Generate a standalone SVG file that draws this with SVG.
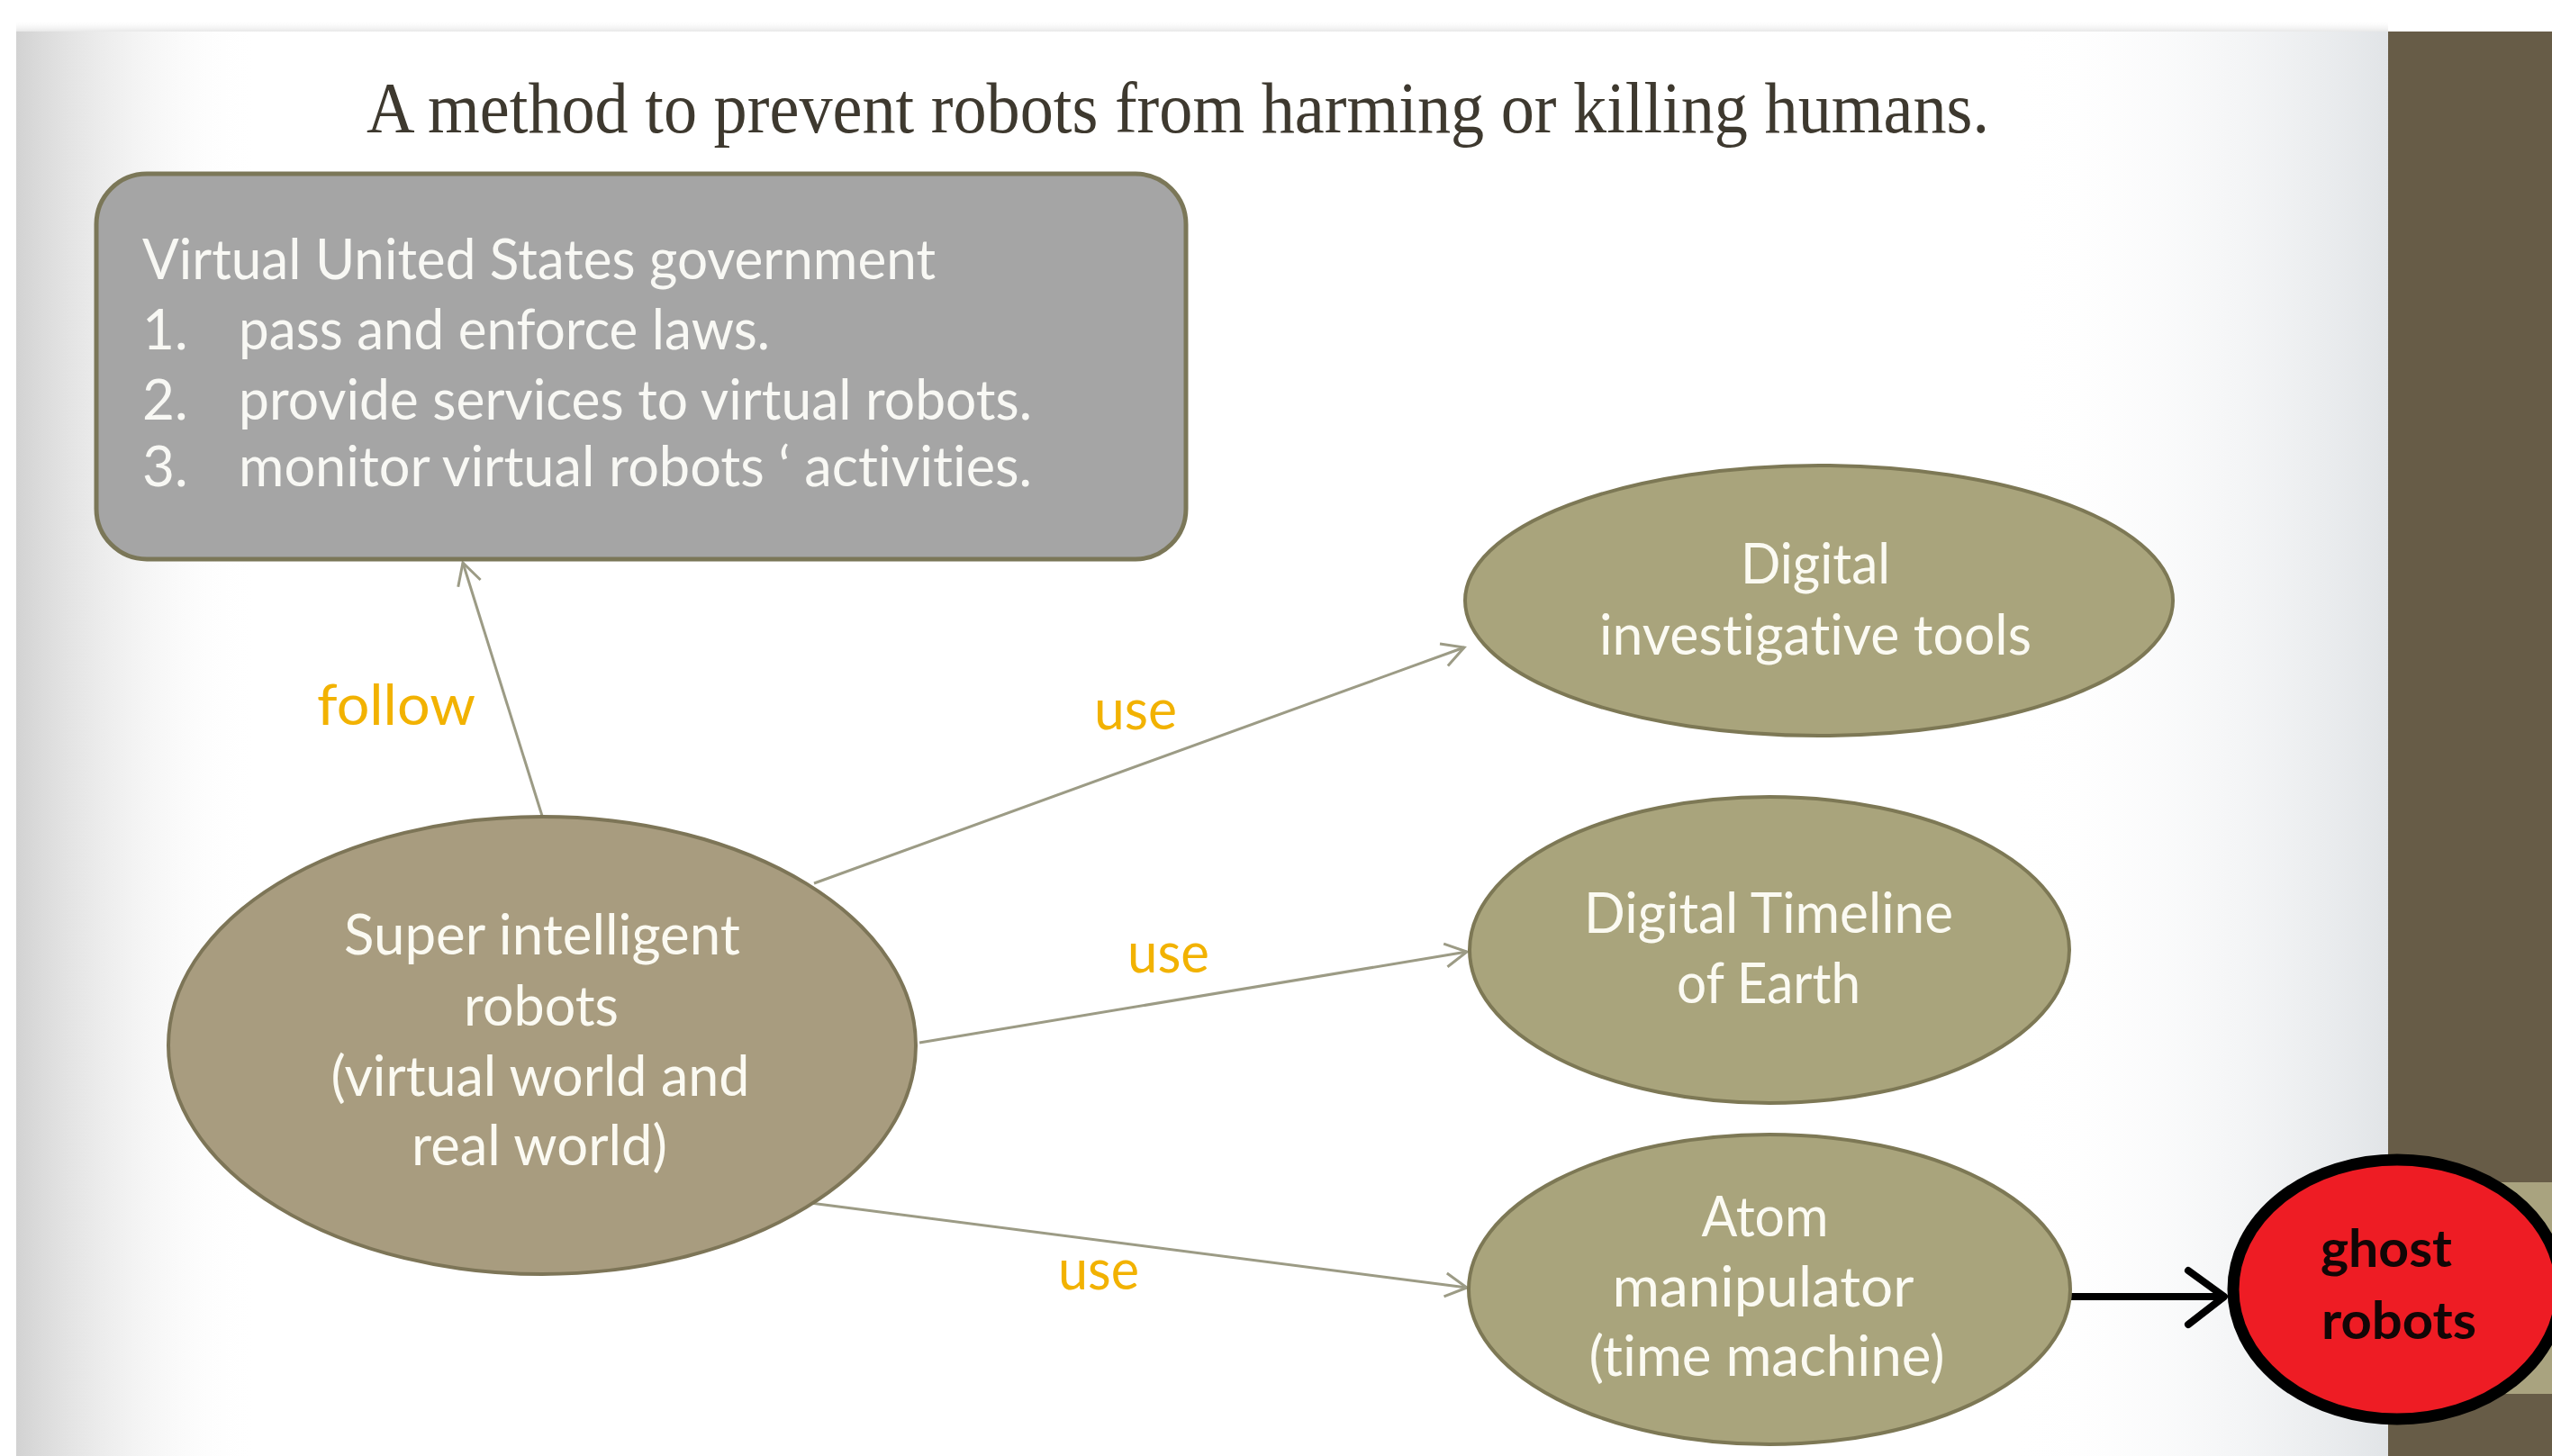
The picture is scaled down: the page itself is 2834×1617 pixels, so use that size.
<svg xmlns="http://www.w3.org/2000/svg" width="2834" height="1617" viewBox="0 0 2834 1617">
<defs>
<linearGradient id="gl" x1="0" y1="0" x2="1" y2="0">
<stop offset="0" stop-color="#d2d2d2"/>
<stop offset="1" stop-color="#ffffff" stop-opacity="0"/>
</linearGradient>
<linearGradient id="gr" x1="0" y1="0" x2="1" y2="0">
<stop offset="0" stop-color="#ffffff" stop-opacity="0"/>
<stop offset="1" stop-color="#e1e4e7"/>
</linearGradient>
<linearGradient id="gt" x1="0" y1="0" x2="0" y2="1">
<stop offset="0" stop-color="#ffffff" stop-opacity="0"/>
<stop offset="1" stop-color="#e4e4e4"/>
</linearGradient>
<marker id="ah" markerUnits="userSpaceOnUse" markerWidth="40" markerHeight="40" viewBox="-30 -20 34 40" refX="0" refY="0" orient="auto">
<path d="M-24,-13 L0,0 L-24,13" fill="none" stroke="#9c9b85" stroke-width="3"/>
</marker>
<marker id="ahb" markerUnits="userSpaceOnUse" markerWidth="60" markerHeight="80" viewBox="-50 -40 58 80" refX="0" refY="0" orient="auto">
<path d="M-40,-29 L0,0 L-40,31" fill="none" stroke="#000" stroke-width="8" stroke-linecap="round" stroke-linejoin="round"/>
</marker>
</defs>
<style>
text{font-variant-ligatures:none;font-feature-settings:"liga" 0,"clig" 0}
.node{font-family:"Lato","Liberation Sans",sans-serif;font-size:62px;fill:#fbfaf2;text-anchor:middle}
.gov{font-family:"Lato","Liberation Sans",sans-serif;font-size:62px;fill:#f8f8f4}
.lbl{font-family:"Lato","Liberation Sans",sans-serif;font-size:62px;fill:#f2b200}
.ell{fill:#a9a47c;stroke:#7d7855;stroke-width:4}
.conn{fill:none;stroke:#9c9b85;stroke-width:3;marker-end:url(#ah)}
</style>
<!-- background -->
<rect x="0" y="0" width="2834" height="1617" fill="#ffffff"/>
<rect x="18" y="22" width="2634" height="14" fill="url(#gt)"/>
<rect x="18" y="35" width="2634" height="1582" fill="#ffffff"/>
<rect x="18" y="35" width="270" height="1582" fill="url(#gl)"/>
<rect x="2230" y="35" width="422" height="1582" fill="url(#gr)"/>
<rect x="2652" y="35" width="182" height="1582" fill="#675c47"/>
<rect x="2652" y="1313" width="182" height="235" fill="#a9a37f"/>

<text id="title" x="1308" y="147" font-family="Liberation Serif, serif" font-size="80" fill="#3e392f" text-anchor="middle" textLength="1802" lengthAdjust="spacingAndGlyphs">A method to prevent robots from harming or killing humans.</text>

<g id="connectors">
<line class="conn" x1="602" y1="906" x2="514" y2="625"/>
<line class="conn" x1="904" y1="981" x2="1626" y2="719"/>
<line class="conn" x1="1021" y1="1158" x2="1629" y2="1057"/>
<line class="conn" x1="900" y1="1336" x2="1629" y2="1430"/>
<line x1="2298" y1="1440" x2="2470" y2="1440" stroke="#000" stroke-width="8" marker-end="url(#ahb)"/>
<text class="lbl" x="352" y="805" textLength="176" lengthAdjust="spacingAndGlyphs">follow</text>
<text class="lbl" x="1215" y="810" textLength="92" lengthAdjust="spacingAndGlyphs">use</text>
<text class="lbl" x="1252" y="1080" textLength="91" lengthAdjust="spacingAndGlyphs">use</text>
<text class="lbl" x="1175" y="1432" textLength="90" lengthAdjust="spacingAndGlyphs">use</text>
</g>

<g id="gov">
<rect x="107" y="193" width="1210" height="428" rx="56" ry="56" fill="#a5a5a5" stroke="#7b7758" stroke-width="5"/>
<text class="gov" x="158" y="310" textLength="881" lengthAdjust="spacingAndGlyphs">Virtual United States government</text>
<text class="gov" x="158" y="388">1.</text>
<text class="gov" x="265" y="388" textLength="590" lengthAdjust="spacingAndGlyphs">pass and  enforce laws.</text>
<text class="gov" x="158" y="466">2.</text>
<text class="gov" x="265" y="466" textLength="881" lengthAdjust="spacingAndGlyphs">provide services to virtual robots.</text>
<text class="gov" x="158" y="540">3.</text>
<text class="gov" x="265" y="540" textLength="881" lengthAdjust="spacingAndGlyphs">monitor virtual robots ‘ activities.</text>
</g>

<g id="super">
<ellipse cx="602" cy="1161" rx="415" ry="254" fill="#a89c7f" stroke="#7d7557" stroke-width="4"/>
<text class="node" x="602" y="1060" textLength="440" lengthAdjust="spacingAndGlyphs">Super intelligent</text>
<text class="node" x="601" y="1139" textLength="172" lengthAdjust="spacingAndGlyphs">robots</text>
<text class="node" x="600" y="1217" textLength="465" lengthAdjust="spacingAndGlyphs">(virtual world and</text>
<text class="node" x="599" y="1294" textLength="284" lengthAdjust="spacingAndGlyphs">real world)</text>
</g>

<g id="investigative">
<ellipse class="ell" cx="2020" cy="667" rx="393" ry="150"/>
<text class="node" x="2016" y="648" textLength="166" lengthAdjust="spacingAndGlyphs">Digital</text>
<text class="node" x="2016" y="727" textLength="480" lengthAdjust="spacingAndGlyphs">investigative tools</text>
</g>

<g id="timeline">
<ellipse class="ell" cx="1965" cy="1055" rx="333" ry="170"/>
<text class="node" x="1964" y="1036" textLength="410" lengthAdjust="spacingAndGlyphs">Digital Timeline</text>
<text class="node" x="1964" y="1114" textLength="204" lengthAdjust="spacingAndGlyphs">of Earth</text>
</g>

<g id="atom">
<ellipse class="ell" cx="1965" cy="1432" rx="334" ry="172"/>
<text class="node" x="1960" y="1373" textLength="141" lengthAdjust="spacingAndGlyphs">Atom</text>
<text class="node" x="1958" y="1451" textLength="335" lengthAdjust="spacingAndGlyphs">manipulator</text>
<text class="node" x="1962" y="1528" textLength="395" lengthAdjust="spacingAndGlyphs">(time machine)</text>
</g>

<g id="ghost">
<ellipse cx="2662" cy="1432" rx="182" ry="144" fill="#ee1c24" stroke="#000" stroke-width="13"/>
<text x="2577" y="1407" font-family="Lato, Liberation Sans, sans-serif" font-weight="bold" font-size="58" fill="#120606" textLength="146" lengthAdjust="spacingAndGlyphs">ghost</text>
<text x="2578" y="1487" font-family="Lato, Liberation Sans, sans-serif" font-weight="bold" font-size="58" fill="#120606" textLength="172" lengthAdjust="spacingAndGlyphs">robots</text>
</g>
</svg>
